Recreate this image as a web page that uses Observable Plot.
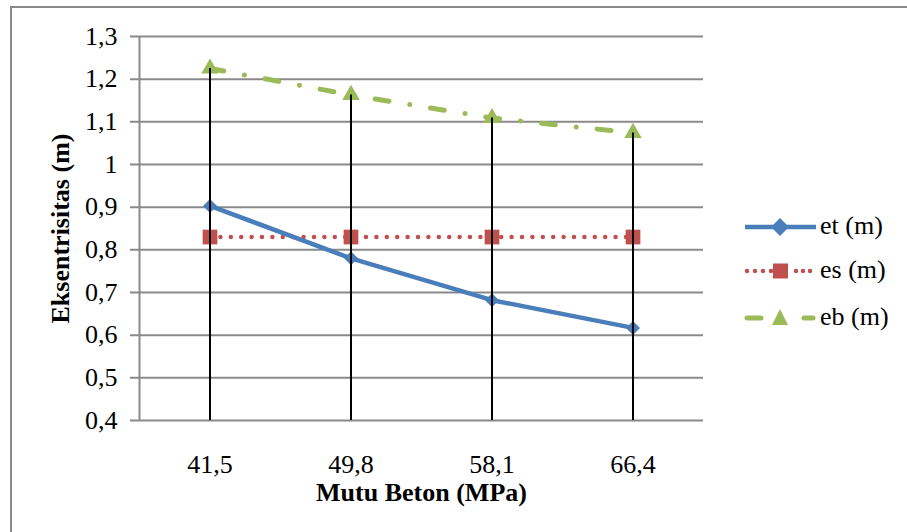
<!DOCTYPE html>
<html>
<head>
<meta charset="utf-8">
<script src="https://cdn.jsdelivr.net/npm/d3@7"></script>
<script src="https://cdn.jsdelivr.net/npm/@observablehq/plot@0.6"></script>
<style>
  html, body { margin: 0; padding: 0; background: #fff; }
  #wrap { position: relative; width: 907px; height: 532px; overflow: hidden; font-family: "Liberation Serif", "Times New Roman", serif; }
  #border { position: absolute; left: 10px; top: 6px; width: 1000px; height: 1000px; border-left: 2px solid #8a8a8a; border-top: 2px solid #8a8a8a; box-sizing: border-box; }
  #chart { position: absolute; left: 0; top: 0; }
  #legend { position: absolute; left: 740px; top: 205px; }
  .item { position: absolute; left: 0; height: 40px; width: 170px; }
  .item svg { position: absolute; left: 0; top: 0; }
  .item span { position: absolute; left: 80px; top: 4px; font-family: "Liberation Serif", "Times New Roman", serif; font-size: 26px; line-height: 30px; color: #000; white-space: nowrap; }
</style>
</head>
<body>
<div id="wrap">
  <div id="border"></div>
  <div id="chart"></div>
  <div id="legend"></div>
</div>
<script>
// ---- data ----
const categories = [41.5, 49.8, 58.1, 66.4];
const etValues = [0.903, 0.780, 0.682, 0.617];
const esValues = [0.830, 0.830, 0.830, 0.830];
const ebValues = [1.225, 1.163, 1.109, 1.074];
const yTicks = [0.4, 0.5, 0.6, 0.7, 0.8, 0.9, 1, 1.1, 1.2, 1.3];
const seriesNames = ["et (m)", "es (m)", "eb (m)"];
const xTitle = "Mutu Beton (MPa)";
const yTitle = "Eksentrisitas (m)";

const colors = {"et (m)": "#4a7ebb", "es (m)": "#c0504d", "eb (m)": "#9bbb59"};
const comma = d => String(d).replace(".", ",");

const rows = categories.map((c, i) => ({x: c, et: etValues[i], es: esValues[i], eb: ebValues[i]}));
const step = categories[1] - categories[0];

const plot = Plot.plot({
  width: 907,
  height: 532,
  marginLeft: 139,
  marginRight: 204,
  marginTop: 36,
  marginBottom: 112,
  style: {fontFamily: "'Liberation Serif', 'Times New Roman', serif", fontSize: "26px", background: "transparent", color: "#000"},
  x: {type: "linear", domain: [categories[0] - step / 2, categories[categories.length - 1] + step / 2]},
  y: {domain: [yTicks[0], yTicks[yTicks.length - 1]]},
  marks: [
    Plot.ruleY(yTicks, {y: d => d, stroke: "#8a8a8a", strokeWidth: 2, insetLeft: -9}),
    Plot.ruleX([categories[0] - step / 2], {x: d => d, y1: yTicks[0], y2: yTicks[yTicks.length - 1], stroke: "#8a8a8a", strokeWidth: 2}),
    Plot.axisY({ticks: yTicks, tickFormat: comma, tickSize: 0, tickPadding: 22, label: null, fontSize: 26}),
    Plot.axisX({ticks: categories, tickFormat: comma, tickSize: 0, tickPadding: 34, label: null, fontSize: 26}),
    Plot.line(rows, {x: "x", y: "eb", stroke: colors["eb (m)"], strokeWidth: 5, strokeDasharray: "14,21,0,21", strokeLinecap: "round"}),
    Plot.line(rows, {x: "x", y: "es", stroke: colors["es (m)"], strokeWidth: 4.5, strokeDasharray: "0,10.4", strokeLinecap: "round"}),
    Plot.line(rows, {x: "x", y: "et", stroke: colors["et (m)"], strokeWidth: 4.5}),
    Plot.dot(rows, {x: "x", y: "eb", symbol: "triangle", r: 6.5, fill: colors["eb (m)"], stroke: "none"}),
    Plot.dot(rows, {x: "x", y: "es", symbol: "square", r: 8.3, fill: colors["es (m)"], stroke: "none"}),
    Plot.dot(rows, {x: "x", y: "et", symbol: "diamond2", r: 6.3, fill: colors["et (m)"], stroke: "none"}),
    Plot.ruleX(rows, {x: "x", y1: yTicks[0], y2: "eb", stroke: "#000", strokeWidth: 2}),
    Plot.text([xTitle], {frameAnchor: "bottom", dy: 80, text: d => d, textAnchor: "middle", fontWeight: "bold", fontSize: 26, fill: "#000"}),
    Plot.text([yTitle], {frameAnchor: "left", dx: -79, text: d => d, rotate: -90, textAnchor: "middle", fontWeight: "bold", fontSize: 26, fill: "#000"})
  ]
});
document.getElementById("chart").appendChild(plot);

// ---- legend ----
const legend = document.getElementById("legend");
const ys = [22, 66, 113];
const swatch = {
  "et (m)": `<line x1="5" x2="76" y1="20" y2="20" stroke="${colors["et (m)"]}" stroke-width="4.5"/>
             <path d="M40,11 L49,20 L40,29 L31,20 Z" fill="${colors["et (m)"]}"/>`,
  "es (m)": `<line x1="7" x2="32" y1="20" y2="20" stroke="${colors["es (m)"]}" stroke-width="4.5" stroke-dasharray="0,8" stroke-linecap="round"/>
             <line x1="56" x2="74" y1="20" y2="20" stroke="${colors["es (m)"]}" stroke-width="4.5" stroke-dasharray="0,7" stroke-linecap="round"/>
             <rect x="33" y="12.5" width="15" height="15" fill="${colors["es (m)"]}"/>`,
  "eb (m)": `<line x1="7" x2="21" y1="20" y2="20" stroke="${colors["eb (m)"]}" stroke-width="5" stroke-linecap="round"/>
             <line x1="64" x2="73" y1="20" y2="20" stroke="${colors["eb (m)"]}" stroke-width="5" stroke-linecap="round"/>
             <path d="M40,11 L48,27 L32,27 Z" fill="${colors["eb (m)"]}"/>`
};
seriesNames.forEach((name, i) => {
  const div = document.createElement("div");
  div.className = "item";
  div.style.top = (ys[i] - 20) + "px";
  div.innerHTML = `<svg width="80" height="40">${swatch[name]}</svg><span>${name}</span>`;
  legend.appendChild(div);
});
</script>
</body>
</html>
